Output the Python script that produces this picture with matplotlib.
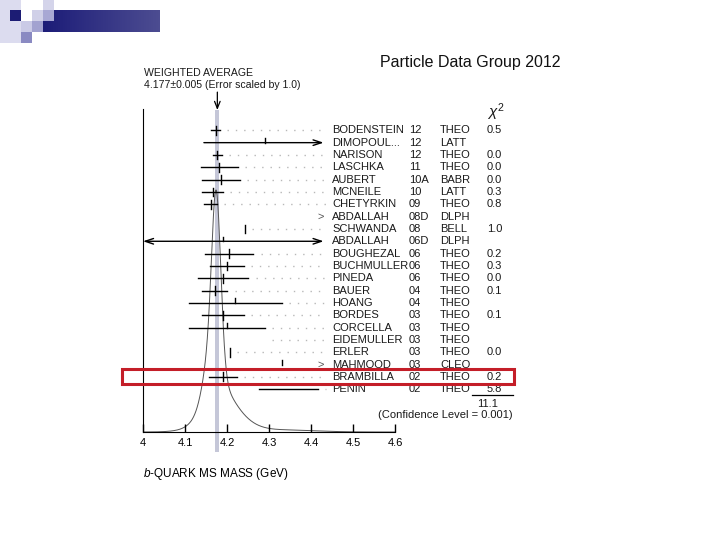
import numpy as np
import matplotlib.pyplot as plt
from matplotlib.patches import Rectangle

plt.rcParams['font.family'] = ['Liberation Sans', 'DejaVu Sans']
plt.rcParams['mathtext.fontset'] = 'custom'
plt.rcParams['mathtext.rm'] = 'Liberation Sans'
plt.rcParams['mathtext.it'] = 'Liberation Sans:italic'

# measurements, top to bottom
names = ["BODENSTEIN", "DIMOPOUL...", "NARISON", "LASCHKA", "AUBERT", "MCNEILE",
         "CHETYRKIN", "ABDALLAH", "SCHWANDA", "ABDALLAH", "BOUGHEZAL", "BUCHMULLER",
         "PINEDA", "BAUER", "HOANG", "BORDES", "CORCELLA", "EIDEMULLER", "ERLER",
         "MAHMOOD", "BRAMBILLA", "PENIN"]
years = ["12", "12", "12", "11", "10A", "10", "09", "08D", "08", "06D", "06", "06",
         "06", "04", "04", "03", "03", "03", "03", "03", "02", "02"]
expts = ["THEO", "LATT", "THEO", "THEO", "BABR", "LATT", "THEO", "DLPH", "BELL", "DLPH",
         "THEO", "THEO", "THEO", "THEO", "THEO", "THEO", "THEO", "THEO", "THEO", "CLEO",
         "THEO", "THEO"]
chi2 = ["0.5", "", "0.0", "0.0", "0.0", "0.3", "0.8", "", "1.0", "", "0.2", "0.3",
        "0.0", "0.1", "", "0.1", "", "", "0.0", "", "0.2", "5.8"]
values = [4.173, 4.29, 4.177, 4.182, 4.186, 4.166, 4.161, np.nan, 4.243, 4.19, 4.205,
          4.20, 4.191, 4.171, 4.22, 4.19, 4.20, np.nan, 4.207, 4.33, 4.19, 4.346]
errors = [0.010, 0.145, 0.011, 0.045, 0.045, 0.025, 0.016, np.nan, np.nan, 0.29, 0.058,
          0.040, 0.060, 0.030, 0.11, 0.05, 0.09, np.nan, np.nan, np.nan, 0.033, 0.07]
offscale = [7, 19]  # rows with only an arrow at the right edge
no_tick = [21]      # central mark not visible
highlight = "BRAMBILLA"

avg = 4.177
avg_err = 0.005
chi2_total = "11.1"
conf_level = "0.001"
ticks = [4.0, 4.1, 4.2, 4.3, 4.4, 4.5, 4.6]
tick_labels = ["4", "4.1", "4.2", "4.3", "4.4", "4.5", "4.6"]

XMIN, XCLIP, XEND = 4.0, 4.43, 4.435
n = len(names)
fig = plt.figure(figsize=(7.2, 5.4), dpi=100)
fig.patch.set_facecolor('white')

# slide decoration (top left)
def px(x, y, w, h):
    return (x / 720, 1 - (y + h) / 540), w / 720, h / 540

for x, y, w, h, c in [(0, 0, 21, 43, '#dcdcef'), (10, 10, 11, 11, '#1c1c74'),
                      (32, 10, 11, 11, '#d0d0e8'), (43, 0, 11, 10, '#d4d4ea'),
                      (21, 21, 11, 11, '#cacae6'), (32, 21, 11, 11, '#a2a2d0'),
                      (21, 32, 11, 11, '#8a8ac2')]:
    xy, w2, h2 = px(x, y, w, h)
    fig.add_artist(Rectangle(xy, w2, h2, transform=fig.transFigure, color=c, lw=0))
(bx, by), bw, bh = px(43, 10, 117, 22)
bar = fig.add_axes([bx, by, bw, bh])
grad = np.linspace(0, 1, 100)[None, :, None]
bar.imshow(np.array([0.11, 0.11, 0.47]) * (1 - grad) + np.array([0.30, 0.30, 0.57]) * grad,
           aspect='auto')
bar.axis('off')
xy, w2, h2 = px(43, 10, 11, 11)
fig.add_artist(Rectangle(xy, w2, h2, transform=fig.transFigure, color='#a8a8d4', lw=0))

fig.text(380 / 720, 1 - 63 / 540, "Particle Data Group 2012", fontsize=11.5,
         va='center', color='#111111')

ax = fig.add_axes([143 / 720, 108 / 540, 252 / 720, 323 / 540])
ax.set_xlim(4.0, 4.6)
ax.set_ylim(24.47, -1.73)

# average band and arrow
ax.fill_betweenx([-1.65, 26.1], avg - avg_err, avg + avg_err, color='#c5c7d8',
                 lw=0, zorder=0, clip_on=False)
ax.annotate('', xy=(avg, -1.65), xytext=(avg, -3.1), annotation_clip=False,
            arrowprops=dict(arrowstyle='->,head_length=0.5,head_width=0.2', lw=0.9,
                            color='k', shrinkA=0, shrinkB=0))

# ideogram from the measurements used in the average
xs = np.linspace(4.0, 4.6, 1200)
g = np.zeros_like(xs)
for v, e, c in zip(values, errors, chi2):
    if c != "" and not np.isnan(e):
        g += np.exp(-0.5 * ((xs - v) / e) ** 2) / e ** 2
ax.plot(xs, 24.47 - (24.47 - 4.84) * g / g.max(), color='#555555', lw=0.7, zorder=1)

arrow_kw = dict(lw=1, color='k', shrinkA=0, shrinkB=0)
for i in range(n):
    v, e = values[i], errors[i]
    used = chi2[i] != ""
    right = np.nan
    if not np.isnan(e):
        lo, hi = v - e, v + e
        style = ('<' if lo < XMIN else '') + '-' + ('>' if hi >= XCLIP else '')
        if style == '-':
            ax.plot([lo, hi], [i, i], color='k', lw=1, zorder=3)
            right = hi
        else:
            ax.annotate('', xy=(min(hi, XCLIP), i), xytext=(max(lo, XMIN), i),
                        annotation_clip=False,
                        arrowprops=dict(arrowstyle=style + ',head_length=0.6,head_width=0.2',
                                        **arrow_kw))
    if not np.isnan(v) and i not in no_tick:
        ax.plot([v, v], [i - 0.36, i + (0.36 if used else 0)], color='k', lw=1, zorder=3)
        if np.isnan(right) and np.isnan(e):
            right = v
    if i in offscale:
        ax.text(XCLIP, i, '>', ha='right', va='center', fontsize=8, color='#555555')
        right = np.nan
    elif np.isnan(v) and np.isnan(e):
        right = 4.29
    if not np.isnan(right):
        ax.plot([right + 0.017, XEND], [i, i], color='#b8b8b8', lw=1,
                ls=(0, (1, 5)), zorder=2)
    ax.text(4.45, i, names[i], fontsize=8, va='center', color='#1a1a1a')
    ax.text(4.6333, i, years[i], fontsize=8, va='center', color='#1a1a1a')
    ax.text(4.7071, i, expts[i], fontsize=8, va='center', color='#1a1a1a')
    ax.text(4.819, i, chi2[i], fontsize=8, va='center', color='#1a1a1a')

# chi2 column footer
ax.text(4.819, -1.45, r'$\chi^2$', fontsize=11, va='center', color='#1a1a1a')
ax.plot([4.783, 4.881], [21.5, 21.5], color='k', lw=0.9, clip_on=False)
ax.text(4.845, 22.2, chi2_total, fontsize=8, ha='right', va='center', color='#1a1a1a')
ax.text(4.879, 23.1, "(Confidence Level = " + conf_level + ")", fontsize=8, ha='right',
        va='center', color='#1a1a1a')

ax.text(4.0024, -4.64, "WEIGHTED AVERAGE", fontsize=7.6, va='center', color='#1a1a1a')
ax.text(4.0024, -3.67, "%.3f\u00b1%.3f (Error scaled by 1.0)" % (avg, avg_err),
        fontsize=7.6, va='center', color='#1a1a1a')

k = names.index(highlight)
ax.add_patch(Rectangle((3.95, k - 0.64), 0.933, 1.22, fill=False, ec='#c41e28',
                       lw=2.2, clip_on=False, zorder=5))

ax.set_xticks(ticks)
ax.set_xticklabels(tick_labels)
ax.set_yticks([])
ax.tick_params(axis='x', direction='in', length=6, width=1, labelsize=8, pad=4)
ax.spines['top'].set_visible(False)
ax.spines['right'].set_visible(False)
ax.set_xlabel('$b$-QUARK MS MASS (GeV)', loc='left', fontsize=8.5, labelpad=13)

fig.savefig("out.png", dpi=100)
